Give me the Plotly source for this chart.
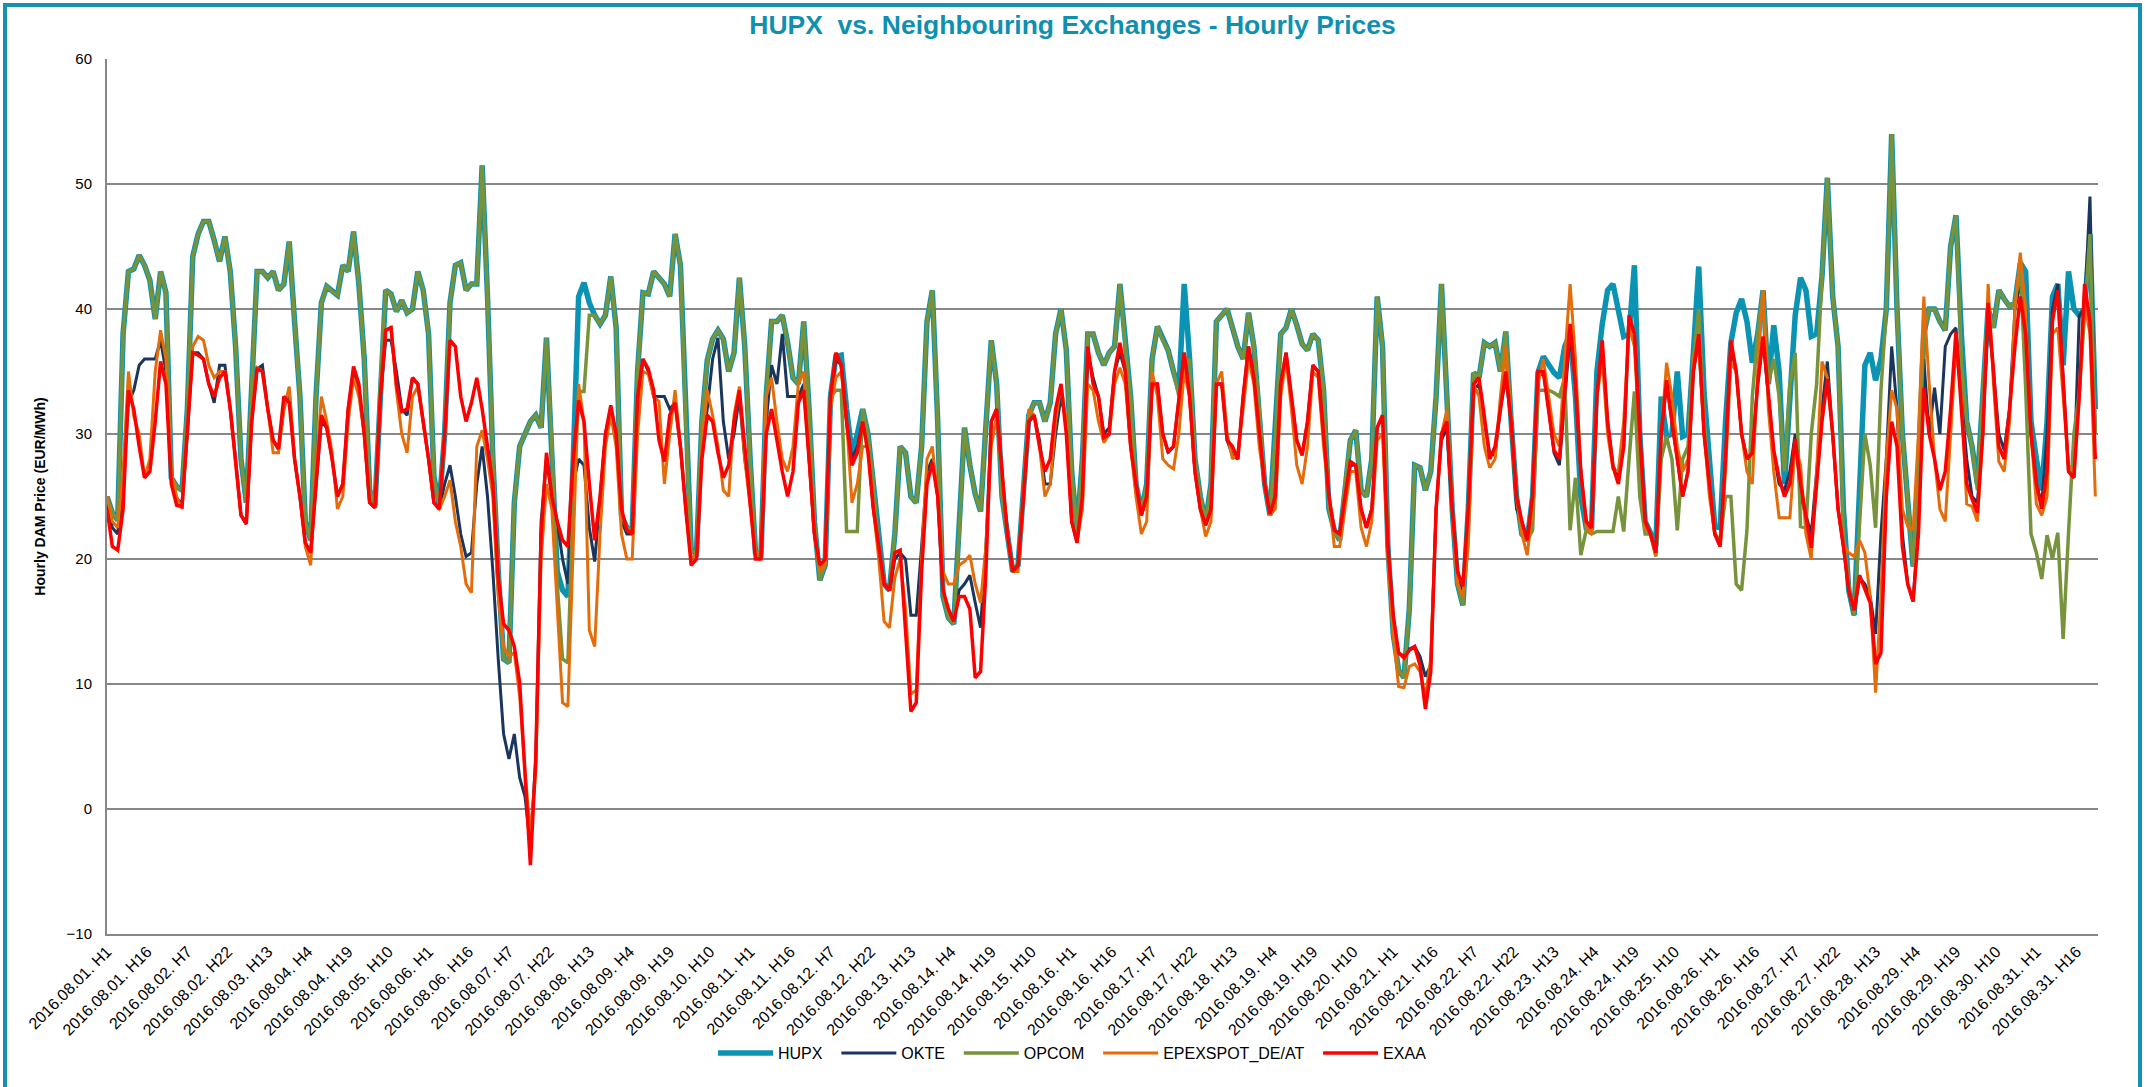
import plotly.graph_objects as go

# ---------------- data ----------------
days = list(range(1, 32))
sample_hours = [1, 3, 5, 7, 9, 11, 13, 15, 17, 19, 21, 23]
hour_labels = [f"2016.08.{d:02d}. H{h}" for d in days for h in range(1, 25)]
tick_labels = hour_labels[::15]

hupx = [
    25, 23.7, 23.1, 38, 43, 43.2, 44.3, 43.5, 42.3, 39.2, 43, 41.3,
    26.5, 25.8, 25.5, 32, 44.2, 46, 47, 47, 45.5, 43.8, 45.8, 43,
    37, 28, 24.5, 34, 43, 43, 42.5, 43, 41.5, 42, 45.4, 39,
    33, 23, 21.5, 33, 40.5, 41.8, 41.4, 41.1, 43.5, 43, 46.2, 42,
    36, 25.5, 24.3, 34, 41.5, 41.2, 39.8, 40.7, 39.7, 40, 43, 41.5,
    38, 26.6, 24.3, 30, 40.5, 43.5, 43.7, 41.5, 42, 42, 51.5, 41,
    28, 19, 12, 11.7, 24.5, 29, 30, 31, 31.5, 30.5, 37.7, 29,
    19, 17.5, 17, 28, 41, 42.1, 40.5, 39.5, 38.8, 39.5, 42.6, 38.5,
    23.5, 22.5, 22.3, 35, 41.3, 41.2, 43, 42.5, 42, 41, 46, 43.5,
    31, 20.7, 20.5, 31, 35.9, 37.6, 38.3, 37.6, 35, 36.5, 42.5, 37,
    28, 20.5, 20, 33, 39, 39, 39.5, 37.3, 34.5, 34, 39, 32,
    23, 18.3, 19.5, 33, 36.2, 36.3, 32, 28.5, 30, 32, 30, 26,
    21, 18, 17.5, 22, 29, 28.5, 25, 24.5, 29, 39, 41.5, 31,
    17, 15.3, 14.8, 22, 30.5, 27.5, 25.2, 23.8, 31, 37.5, 34, 25,
    22, 19, 19.5, 26, 31.5, 32.5, 32.5, 31, 32.5, 38, 40, 36.7,
    27, 22.2, 28, 38, 38, 36.5, 35.5, 36.5, 37, 42, 37, 33,
    26, 23.8, 26, 36, 38.6, 37.5, 36.7, 35, 33.5, 42, 36, 28,
    25, 23, 26, 39, 39.5, 40, 38.5, 37, 36, 39.7, 37, 32,
    26, 23.5, 30, 38, 38.5, 40, 38.7, 37.2, 36.7, 38, 37.5, 33.5,
    24, 22.3, 21.5, 26, 29.5, 30.3, 25.5, 25, 28, 41, 37, 21,
    14, 11.1, 10.5, 16, 27.5, 27.3, 25.5, 27, 33, 42, 33, 24,
    18, 16.3, 24, 34.9, 34.5, 37.3, 37, 37.3, 35, 38.2, 31, 25,
    22, 21.5, 25, 34.9, 36.2, 35.5, 34.9, 34.5, 37, 38, 33, 25,
    22.5, 22.5, 35, 38.8, 41.5, 42, 40, 37.8, 38, 43.5, 30, 23,
    22.1, 21, 33, 29.8, 30, 35, 29.8, 30, 36.5, 43.4, 33.3, 27.9,
    22.6, 22.5, 31, 37.3, 39.7, 40.8, 39, 35.7, 38, 41.5, 34, 38.7,
    35, 26, 32, 39.5, 42.5, 41.5, 37.8, 38, 42.6, 50.5, 41, 37,
    24, 17.5, 15.5, 25, 35.5, 36.5, 34.3, 36, 40, 54, 40, 30,
    25, 19.4, 27, 38, 40, 40, 39, 38.3, 45, 47.5, 38, 31,
    29, 26, 33, 40, 38.5, 41.5, 40.8, 40.2, 40.5, 43.7, 43, 31,
    28, 25.5, 31, 41, 42, 35.5, 43, 40, 39.5, 40, 46, 32,
]

okte = [
    24.5, 22.5, 22, 26, 32.5, 33.5, 35.5, 36, 36, 36, 37.5, 35,
    26.5, 24.8, 24.5, 30, 36.5, 36.5, 36, 34, 32.5, 35.5, 35.5, 32,
    28, 23.5, 22.8, 31, 35.2, 35.5, 32, 29.5, 28.8, 32, 33.5, 28,
    25, 21.3, 20.5, 26, 31, 30.5, 28, 25, 26, 32, 35, 33.5,
    30, 24.5, 24.1, 33, 37.5, 37.5, 35, 32, 31.5, 34.5, 34, 31,
    28, 24.5, 24, 26, 27.5, 25, 22, 20.2, 20.5, 26, 29, 25,
    19, 12, 6, 4, 6, 2.5, 1, -3, 4, 23, 28, 25,
    23, 20, 18, 26, 28, 27.5, 22.5, 19.8, 25, 30, 32, 30,
    23, 22, 22, 32, 36, 35, 33, 33, 33, 32, 32.5, 29,
    24, 20, 20.5, 29, 32, 36, 37.7, 31, 28, 30, 33, 28,
    25, 20.5, 20, 31, 35.5, 34, 38, 33, 33, 33, 34, 28,
    22, 19, 19.5, 33, 36, 35.5, 31, 28, 29, 31, 29, 24,
    21, 18, 17.5, 20, 20.5, 20, 15.5, 15.5, 21, 27, 28, 25,
    17, 15.5, 15.2, 17.5, 18, 18.7, 16.5, 14.5, 21, 31, 32, 27,
    22, 19, 19.5, 25, 31, 31.5, 29.5, 26, 26, 30, 33, 31,
    23, 21.3, 25, 36.5, 34.5, 33, 30, 30.5, 35, 36.5, 35, 29,
    26, 23.5, 25, 34, 34, 30, 28.5, 29, 33, 36.5, 33, 27,
    24, 22.7, 24, 34, 34, 29.5, 28.3, 28, 33, 37, 34.5, 30,
    26, 23.6, 25, 34, 36.5, 33, 29.5, 28.3, 31, 35.5, 35, 30,
    25, 22.3, 22, 25, 27.5, 27.5, 24, 22.5, 24, 30.5, 31.5, 21,
    15, 12.5, 12.2, 12.8, 13, 12.2, 10.6, 11.5, 24, 29.5, 30.5, 24,
    19, 17.5, 24, 33.5, 34, 31, 28.5, 28.3, 32, 34.5, 31, 24,
    23, 21.5, 25, 34.5, 35, 32, 28.5, 27.5, 33, 38, 34, 27,
    23, 22.5, 33, 37, 31, 27.5, 26.5, 29, 39, 38, 30, 23,
    22, 20.5, 30, 34, 31, 27.9, 25, 27, 35, 37.5, 30, 26,
    22, 21, 28, 37, 35, 30, 28, 28.5, 34, 37.5, 33, 28.5,
    26, 25.5, 27, 30, 25, 23.5, 22, 27, 32, 35.8, 30, 24,
    21, 17.5, 15.5, 18.5, 18, 17, 14, 22, 28, 37, 32, 22,
    18, 16.6, 23, 36, 30, 33.7, 30, 37, 38, 38.5, 33, 28,
    25, 24.5, 30, 39.5, 35, 30, 28.7, 32, 40, 42, 40, 30,
    26, 24.4, 30, 40, 42, 34, 27, 26.5, 39.5, 40, 49, 30,
]

opcom = [
    25, 23.7, 23.1, 38, 43, 43.2, 44.3, 43.5, 42.3, 39.2, 43, 41.3,
    26.5, 25.8, 25.5, 32, 44.2, 46, 47, 47, 45.5, 43.8, 45.8, 43,
    37, 28, 24.5, 34, 43, 43, 42.5, 43, 41.5, 42, 45.4, 39,
    33, 23, 21.5, 33, 40.5, 41.8, 41.4, 41.1, 43.5, 43, 46.2, 42,
    36, 25.5, 24.3, 34, 41.5, 41.2, 39.8, 40.7, 39.7, 40, 43, 41.5,
    38, 26.6, 24.3, 30, 40.5, 43.5, 43.7, 41.5, 42, 42, 51.5, 41,
    28, 19, 12, 11.7, 24.5, 29, 30, 31, 31.5, 30.5, 37.7, 29,
    18, 12, 11.7, 25, 33.4, 33.4, 39.5, 39.5, 38.8, 39.5, 42.6, 38.5,
    23.5, 22.5, 22.3, 35, 41.3, 41.2, 43, 42.5, 42, 41, 46, 43.5,
    31, 20.7, 20.5, 31, 35.9, 37.6, 38.3, 37.6, 35, 36.5, 42.5, 37,
    28, 20.5, 20, 33, 39, 39, 39.5, 37.3, 34.5, 34, 39, 32,
    23, 18.3, 19.5, 33, 33.5, 33.5, 22.2, 22.2, 22.2, 32, 30, 26,
    21, 18, 17.5, 22, 29, 28.5, 25, 24.5, 29, 39, 41.5, 31,
    17, 15.3, 14.8, 22, 30.5, 27.5, 25.2, 23.8, 31, 37.5, 34, 25,
    22, 19, 19.5, 26, 31.5, 32.5, 32.5, 31, 32.5, 38, 40, 36.7,
    27, 22.2, 28, 38, 38, 36.5, 35.5, 36.5, 37, 42, 37, 33,
    26, 23.8, 26, 36, 38.6, 37.5, 36.7, 35, 33, 35.5, 36, 28,
    25, 23, 26, 39, 39.5, 40, 38.5, 37, 36, 39.7, 37, 32,
    26, 23.5, 30, 38, 38.5, 40, 38.7, 37.2, 36.7, 38, 37.5, 33.5,
    24, 22.3, 21.5, 26, 29.5, 30.3, 25.5, 25, 28, 41, 37, 21,
    14, 11.1, 10.5, 16, 27.5, 27.3, 25.5, 27, 33, 42, 33, 24,
    18, 16.3, 24, 34.9, 34.5, 37.3, 37, 37.3, 35, 38.2, 31, 25,
    22, 21.5, 22.3, 33.5, 33.5, 33.5, 33.3, 33, 34.5, 22.3, 26.5, 20.3,
    22.3, 22, 22.2, 22.2, 22.2, 22.2, 25, 22.2, 28, 33.4, 25, 22,
    22, 20.2, 28, 29.8, 28, 22.3, 28, 29, 36, 40, 31, 26,
    22, 21.5, 25, 25, 18, 17.5, 22.3, 33, 38, 41.5, 34, 36,
    33, 27, 34, 36.5, 22.6, 22.5, 30, 34, 42.6, 50.5, 41, 37,
    22, 18, 15.5, 23, 30, 27.5, 22.5, 33.5, 40, 54, 40, 30,
    25, 19.4, 27, 38, 40, 40, 39, 38.3, 45, 47.5, 36, 31,
    29, 25.5, 33, 40, 38.5, 41.5, 40.8, 40.2, 40.5, 43.3, 33.7, 22,
    20.5, 18.4, 21.9, 20, 22.1, 13.6, 22.1, 30, 33.3, 40, 46, 30,
]

epex = [
    25, 23, 22.5, 27, 35, 31.4, 30, 26.5, 28, 35, 38.3, 36,
    27, 25, 24, 30.5, 37, 37.8, 37.5, 35.5, 34.5, 35, 35, 32,
    28, 23.5, 23, 31.5, 35.3, 35, 32, 28.5, 28.5, 32, 33.8, 28,
    25, 21, 19.5, 27, 33, 31, 28.5, 24, 25, 31, 34.5, 33,
    30, 24.5, 24.2, 33, 38.2, 38.6, 33.5, 30, 28.5, 33, 33.8, 31,
    28, 24.5, 24, 25, 26.3, 23, 21, 18, 17.3, 29, 30.3, 28,
    25, 17, 13, 12.2, 12.5, 9, 3, -2, 3, 20, 26, 24,
    16, 8.5, 8.2, 22, 34, 31, 14.3, 13, 22, 29, 31.5, 29,
    22, 20, 20, 30, 35, 34.8, 33, 32.6, 26, 30, 33.5, 29,
    24, 20, 20.5, 29, 33.5, 31.5, 29, 25.5, 25, 31.5, 33.8, 28,
    24, 20.5, 20.5, 33, 34.5, 31, 28, 27, 29, 34, 35, 28,
    22, 19, 19.5, 32, 34.5, 35, 31, 24.5, 26, 29, 29, 24,
    20, 15, 14.5, 18.5, 20, 16, 9.2, 9.5, 20, 28, 29, 25,
    19, 18, 18, 19.5, 19.8, 20.3, 18, 16.5, 21, 29, 31.5, 27,
    22, 19, 19, 25, 32, 31.5, 29, 25, 26, 31, 34, 31,
    23, 21.5, 24, 34, 33.5, 31, 29.3, 30, 34, 35.3, 34, 29,
    25, 22, 23, 35, 33, 28, 27.5, 27.2, 30, 35, 33, 27,
    24, 21.8, 23, 34, 35, 30, 28, 28.5, 32, 36, 34, 29,
    26, 23.5, 24, 33, 36, 32, 27.5, 26, 29, 35, 34.5, 29,
    25, 21, 21, 24, 27, 27, 22.5, 21, 23, 29.5, 30, 20,
    14, 9.8, 9.7, 11.4, 11.6, 11, 9, 12, 24, 30, 31.9, 24,
    18, 17, 21, 34, 33, 29, 27.3, 28, 33, 37, 31, 25,
    22, 20.3, 24, 34, 36, 33, 30, 29, 36, 42, 36, 27,
    22.5, 22, 33, 35.9, 30, 27.2, 27, 31, 38.6, 37, 29, 22.5,
    22, 20.3, 30, 35.7, 33, 29, 27, 28, 36, 37, 30, 25,
    22, 21, 27, 35.7, 35, 30, 27, 26, 35, 41.5, 32, 27,
    23.3, 23.3, 23.3, 29, 27.5, 22, 20, 27, 35.8, 34.5, 30, 24,
    21.2, 20.5, 20.2, 21.5, 20.5, 17, 9.3, 17, 28, 33.5, 32, 24,
    22.6, 22.3, 30, 41, 34, 28, 24, 23, 30, 37, 33, 24.4,
    24.2, 23, 30, 42, 34, 27.8, 27, 31, 40, 44.5, 40, 30,
    24.4, 23.5, 25, 38, 38.5, 33, 27.5, 27, 33, 40.5, 38, 25,
]

exaa = [
    24, 21, 20.7, 24, 33.5, 32, 29, 26.5, 27, 31, 35.8, 34,
    26, 24.3, 24.2, 30, 36.5, 36.3, 36, 34, 33, 34.5, 35, 32,
    28, 23.5, 22.8, 31, 35.2, 35, 32, 29.5, 28.8, 33, 32.5, 28,
    25, 21.3, 20.5, 26, 31.5, 30.5, 28, 25, 26, 32, 35.4, 34,
    30, 24.5, 24.1, 33, 38.3, 38.5, 34, 31.8, 32, 34.5, 34, 31,
    28, 24.5, 24, 30, 37.5, 37, 33, 31, 32.5, 34.5, 32, 29,
    26, 18.5, 14.8, 14.3, 13, 10.1, 2.5, -4.5, 4, 22, 28.5, 25,
    23, 21.5, 21, 28, 32.7, 31, 26, 21.5, 25, 30, 32.3, 30,
    24, 22.3, 22, 33, 36, 35.2, 33.5, 29.5, 27.8, 31.5, 32.5, 29,
    24, 19.5, 20, 28, 31.5, 31, 28.5, 26.5, 27.5, 31, 33.5, 29,
    24, 20, 20, 30, 32, 29.5, 27, 25, 27, 32.5, 33.5, 28,
    22, 19.5, 20, 33, 36.5, 35.5, 31, 27.5, 28.5, 31, 28.5, 24,
    21, 18, 17.5, 20.5, 20.7, 14, 7.8, 8.5, 19, 26, 27.7, 25,
    17.5, 16, 15, 17, 17, 16, 10.5, 11, 19, 31, 32, 27,
    22, 19, 19.5, 25, 31, 31.5, 29, 27, 28, 32, 34, 30,
    23, 21.3, 25, 37, 34, 33, 29.7, 30, 35, 37.3, 35, 29,
    26, 23.5, 25, 34, 34, 30, 28.6, 29, 33, 36.5, 33, 27,
    24, 22.7, 24, 34, 34, 29.5, 29, 28, 33, 37, 34.5, 30,
    26, 23.6, 25, 34, 36.5, 33, 29.5, 28.3, 31, 35.5, 35, 30,
    25, 22.3, 22, 25, 27.8, 27.5, 24, 22.5, 24, 30.5, 31.5, 21,
    15.5, 12.5, 12.1, 12.7, 13, 11.5, 8, 11, 24, 30, 31, 24,
    19, 17.8, 24, 34, 34.5, 31.4, 28, 29, 32, 35, 31, 25,
    23, 21.5, 25, 35, 35, 32, 28.7, 28, 33, 38.8, 34, 27,
    23, 22.5, 33, 37.5, 31, 27.4, 26, 29, 39.5, 38, 30, 23,
    22, 20.5, 30, 34.3, 31, 27.9, 25, 27, 35, 38, 30, 26,
    22, 21, 28, 37.5, 35, 30, 28, 28.5, 34, 37.8, 33, 28.7,
    26.5, 25, 26, 29.6, 26, 23.5, 20.9, 26, 31, 34.4, 30, 24,
    21, 17.5, 15.9, 18.7, 17.5, 16.5, 11.6, 12.5, 25, 31, 29, 21,
    18, 16.6, 22, 33.7, 30, 28, 25.5, 27, 32, 38.2, 32, 26,
    24.8, 23.7, 30, 40.5, 35, 29, 28, 32, 37, 41, 38, 30,
    26, 24, 27, 39, 41.5, 34, 27, 26.5, 33, 42, 39, 28,
]

series_names = ["HUPX", "OKTE", "OPCOM", "EPEXSPOT_DE/AT", "EXAA"]
series_values = [hupx, okte, opcom, epex, exaa]
series_colors = ["#0A93B2", "#1B365D", "#77933C", "#E46C0A", "#FF0000"]
series_widths = [5.5, 3, 3.5, 3, 3.5]

# positions of the sampled hours on the hourly category scale
sample_labels = [f"2016.08.{d:02d}. H{h}" for d in days for h in sample_hours]
x_idx = [hour_labels.index(s) for s in sample_labels]
tick_vals = [hour_labels.index(t) for t in tick_labels]

FONT = "Liberation Sans, Arial, sans-serif"
GRID = "#878787"
PAD = "\u00a0\u00a0"

fig = go.Figure()
for k, (name, vals, color, width) in enumerate(
        zip(series_names, series_values, series_colors, series_widths)):
    legend_name = name + (PAD if k < len(series_names) - 1 else "")
    fig.add_trace(go.Scatter(
        x=x_idx, y=vals, mode="lines", name=legend_name,
        line=dict(color=color, width=width),
        text=sample_labels, hovertemplate="%{text}: %{y}<extra>" + name + "</extra>",
    ))

W, H = 2145, 1087
L, R, T, B = 107, 2098, 59, 934
fig.update_layout(
    width=W, height=H,
    margin=dict(l=L, r=W - R, t=T, b=H - B, autoexpand=False),
    paper_bgcolor="white", plot_bgcolor="white",
    font=dict(family=FONT, size=14, color="black"),
    title=dict(
        text="<b>HUPX\u00a0 vs. Neighbouring Exchanges - Hourly Prices</b>",
        font=dict(family=FONT, size=26.5, color="#1090B0"),
        x=0.5, xanchor="center", xref="container",
        y=1 - 25 / H, yref="container", yanchor="middle",
    ),
    showlegend=True,
    legend=dict(
        orientation="h", x=0.5, xanchor="center", xref="container",
        y=(B - 1053) / (B - T), yanchor="middle",
        font=dict(family=FONT, size=16, color="black"),
        itemwidth=55, traceorder="normal",
    ),
    xaxis=dict(
        range=[0, len(hour_labels) - 1],
        tickmode="array", tickvals=tick_vals, ticktext=tick_labels,
        tickangle=-45, tickfont=dict(family=FONT, size=16, color="black"),
        showgrid=False, zeroline=False,
        showline=True, linecolor=GRID, linewidth=2,
        ticks="", fixedrange=True,
    ),
    yaxis=dict(
        range=[-10, 60], dtick=10, tick0=0,
        showgrid=True, gridcolor=GRID, gridwidth=2,
        zeroline=False,
        showline=True, linecolor=GRID, linewidth=2,
        ticks="", ticklabelstandoff=10,
        tickfont=dict(family=FONT, size=15, color="black"),
        title=dict(text="<b>Hourly DAM Price (EUR/MWh)</b>",
                   font=dict(family=FONT, size=14, color="black"), standoff=18),
        fixedrange=True,
    ),
)

# outer frame of the chart
fig.add_shape(
    type="rect", xref="paper", yref="paper",
    x0=(5 - L) / (R - L), x1=(2140 - L) / (R - L),
    y0=(B - 1092) / (B - T), y1=(B - 5) / (B - T),
    line=dict(color="#1592B2", width=4), fillcolor="rgba(0,0,0,0)", layer="below",
)

fig.write_html(
    "out.html",
    config={"displayModeBar": False},
    post_script="document.body.style.margin='0';document.body.style.overflow='hidden';",
)
